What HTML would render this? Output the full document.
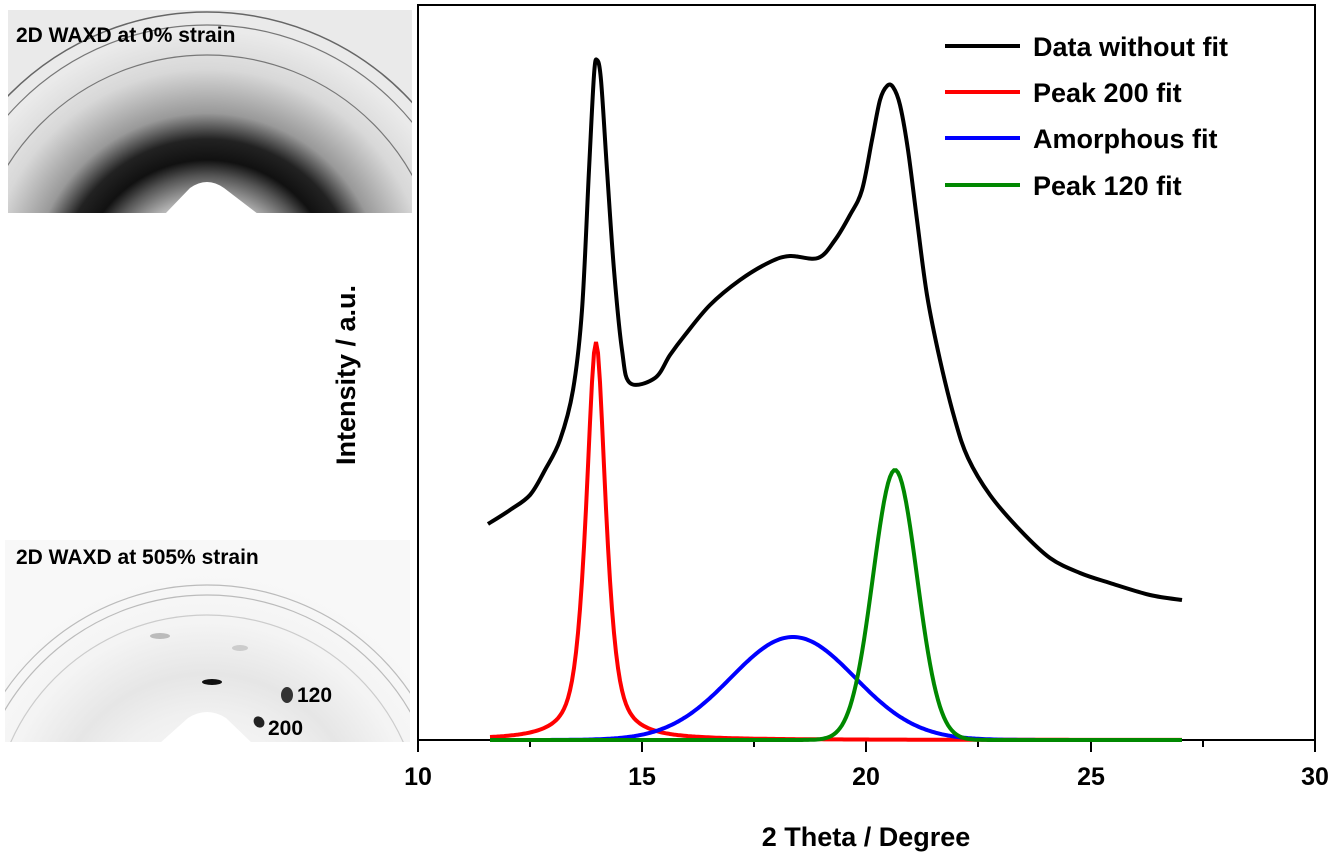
<!DOCTYPE html>
<html><head><meta charset="utf-8"><style>
html,body{margin:0;padding:0;background:#fff;width:1339px;height:865px;overflow:hidden;font-family:"Liberation Sans",Arial,sans-serif}
svg{display:block;position:absolute;left:0;top:0}
</style></head><body>
<svg width="1339" height="865" viewBox="0 0 1339 865" xmlns="http://www.w3.org/2000/svg" font-family="Liberation Sans, Arial, sans-serif" overflow="hidden">
<defs>
<radialGradient id="g1" gradientUnits="userSpaceOnUse" cx="207" cy="290" r="260">
<stop offset="0" stop-color="#fff"/><stop offset="0.30" stop-color="#e0e0e0"/><stop offset="0.44" stop-color="#555"/><stop offset="0.50" stop-color="#111"/><stop offset="0.58" stop-color="#222"/><stop offset="0.68" stop-color="#999"/><stop offset="0.85" stop-color="#d8d8d8"/><stop offset="1" stop-color="#eaeaea"/>
</radialGradient>
<radialGradient id="g2" gradientUnits="userSpaceOnUse" cx="207" cy="830" r="260">
<stop offset="0" stop-color="#fff"/><stop offset="0.45" stop-color="#f0f0f0"/><stop offset="0.6" stop-color="#e6e6e6"/><stop offset="0.8" stop-color="#f4f4f4"/><stop offset="1" stop-color="#f8f8f8"/>
</radialGradient>
<clipPath id="c1"><rect x="8" y="10" width="404" height="203"/></clipPath>
<clipPath id="c2"><rect x="5" y="540" width="405" height="202"/></clipPath>
</defs>
<g clip-path="url(#c1)">
<rect x="8" y="10" width="404" height="203" fill="url(#g1)"/>
<circle cx="207" cy="290" r="278" fill="none" stroke="#666" stroke-width="1.5"/>
<circle cx="207" cy="290" r="265" fill="none" stroke="#777" stroke-width="1.2"/>
<circle cx="207" cy="290" r="235" fill="none" stroke="#777" stroke-width="1.2"/>
<path d="M165 214 L190 188 Q207 176 224 188 L258 214 Z" fill="#fff"/>
</g>
<text x="16" y="42" font-size="21" font-weight="bold">2D WAXD at 0% strain</text>
<g clip-path="url(#c2)">
<rect x="5" y="540" width="405" height="202" fill="url(#g2)"/>
<circle cx="207" cy="830" r="245" fill="none" stroke="#bbb" stroke-width="1.2"/>
<circle cx="207" cy="830" r="235" fill="none" stroke="#bbb" stroke-width="1.2"/>
<circle cx="207" cy="830" r="215" fill="none" stroke="#ccc" stroke-width="1.2"/>
<ellipse cx="212" cy="682" rx="10" ry="3" fill="#111"/>
<ellipse cx="287" cy="695" rx="6" ry="8" fill="#333"/>
<ellipse cx="259" cy="722" rx="5" ry="6" fill="#222" transform="rotate(-40 259 722)"/>
<ellipse cx="160" cy="636" rx="10" ry="3" fill="#bbb"/>
<ellipse cx="240" cy="648" rx="8" ry="3" fill="#ccc"/>
<path d="M160 743 L188 718 Q207 706 226 718 L252 743 Z" fill="#fff"/>
</g>
<text x="16" y="564" font-size="21" font-weight="bold">2D WAXD at 505% strain</text>
<text x="297" y="702" font-size="21" font-weight="bold">120</text>
<text x="268" y="735" font-size="21" font-weight="bold">200</text>

<rect x="418" y="5" width="897" height="735" fill="none" stroke="#000" stroke-width="2"/>
<g stroke="#000" stroke-width="2">
<line x1="418" y1="740" x2="418" y2="752"/><line x1="642" y1="740" x2="642" y2="752"/><line x1="866" y1="740" x2="866" y2="752"/><line x1="1091" y1="740" x2="1091" y2="752"/><line x1="1315" y1="740" x2="1315" y2="752"/>
<line x1="530" y1="740" x2="530" y2="747"/><line x1="754" y1="740" x2="754" y2="747"/><line x1="978" y1="740" x2="978" y2="747"/><line x1="1203" y1="740" x2="1203" y2="747"/>
</g>
<g font-size="25" font-weight="bold" text-anchor="middle">
<text x="418" y="785">10</text><text x="642" y="785">15</text><text x="866" y="785">20</text><text x="1091" y="785">25</text><text x="1315" y="785">30</text>
<text x="866" y="846" font-size="27">2 Theta / Degree</text>
<text transform="translate(355,375) rotate(-90)" font-size="27">Intensity / a.u.</text>
</g>
<path id="pb" fill="none" stroke="#000" stroke-width="4" stroke-linejoin="round" d=""/>
<path id="pr" fill="none" stroke="#f00" stroke-width="4" d=""/>
<path id="pu" fill="none" stroke="#00f" stroke-width="4" d=""/>
<path id="pg" fill="none" stroke="#080" stroke-width="4" d=""/>
<g stroke-width="4">
<line x1="945" y1="46" x2="1020" y2="46" stroke="#000"/>
<line x1="945" y1="92" x2="1020" y2="92" stroke="#f00"/>
<line x1="945" y1="138" x2="1020" y2="138" stroke="#00f"/>
<line x1="945" y1="185" x2="1020" y2="185" stroke="#080"/>
</g>
<g font-size="27" font-weight="bold">
<text x="1033" y="56">Data without fit</text>
<text x="1033" y="102">Peak 200 fit</text>
<text x="1033" y="148">Amorphous fit</text>
<text x="1033" y="195">Peak 120 fit</text>
</g>
</svg>
<script>
var P=[[488,524],[510,510],[530,495],[545,470],[560,440],[573,390],[582,310],[589,170],[594,75],[597,60],[601,80],[607,170],[614,270],[622,350],[630,383],[655,378],[670,355],[685,335],[710,305],[740,280],[770,262],[790,256],[818,258],[835,240],[850,215],[862,190],[872,140],[880,100],[887,86],[893,87],[900,105],[908,150],[917,220],[927,295],[940,360],[955,420],[968,458],[990,495],[1020,530],[1050,558],[1080,573],[1110,583],[1150,595],[1182,600]];
var d="M"+P[0].join(",");
for(var i=0;i<P.length-1;i++){var p0=P[Math.max(i-1,0)],p1=P[i],p2=P[i+1],p3=P[Math.min(i+2,P.length-1)];
var c1=[p1[0]+(p2[0]-p0[0])/6,p1[1]+(p2[1]-p0[1])/6],c2=[p2[0]-(p3[0]-p1[0])/6,p2[1]-(p3[1]-p1[1])/6];
d+=" C"+c1.join(",")+" "+c2.join(",")+" "+p2.join(",");}
document.getElementById("pb").setAttribute("d",d);
function mk(id,f){var s="";for(var x=490;x<=1182;x+=2){var y=740-f(x);s+=(s?" L":"M")+x+","+y.toFixed(1);}document.getElementById(id).setAttribute("d",s);}
mk("pr",x=>{var u=(x-596)/11;return 398/(1+u*u)*0.7+398*0.3*Math.exp(-u*u*0.5);});
mk("pu",x=>103*Math.exp(-Math.pow(x-793,2)/(2*62*62)));
mk("pg",x=>270*Math.exp(-Math.pow(x-895,2)/(2*22*22)));
</script>
</body></html>
